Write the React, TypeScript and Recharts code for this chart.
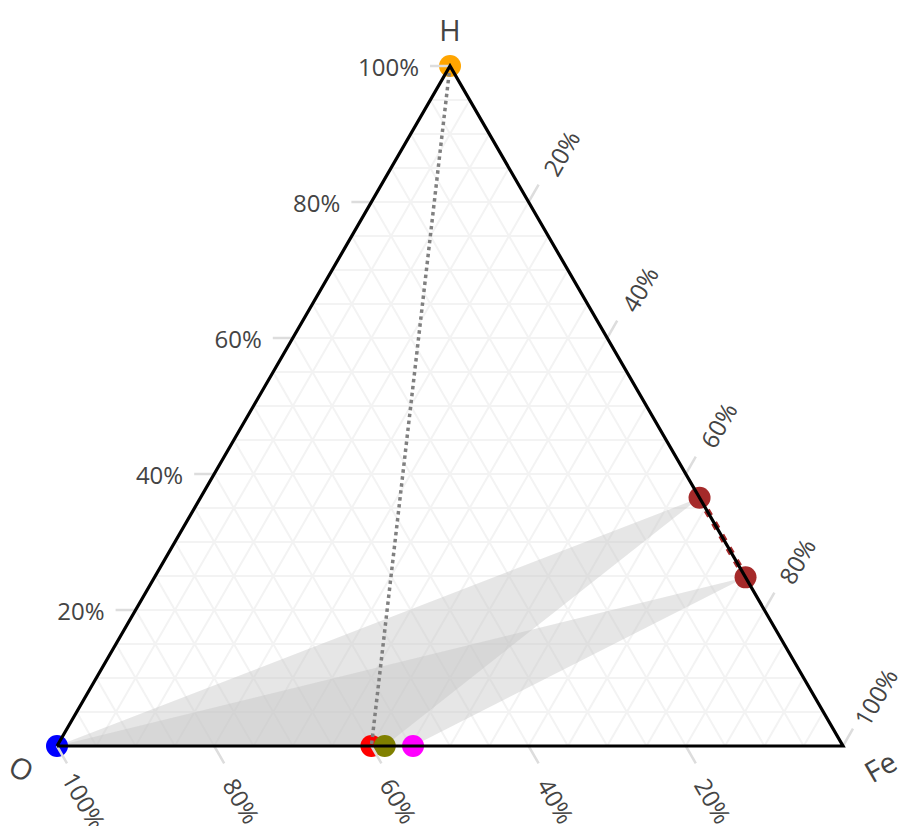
import React from 'react';
import { ScatterChart, Scatter, XAxis, YAxis } from 'recharts';

// ---------- data ----------
const axisTitles = ['H', 'O', 'Fe'];
const tickValues = [0.2, 0.4, 0.6, 0.8, 1.0];
const tickLabels = ['20%', '40%', '60%', '80%', '100%'];
const gridValues = [0.05, 0.1, 0.15, 0.2, 0.25, 0.3, 0.35, 0.4, 0.45, 0.5, 0.55, 0.6, 0.65, 0.7, 0.75, 0.8, 0.85, 0.9, 0.95];

// marker ternary compositions (H, O, Fe)
const markerH = [1, 0, 0, 0, 0, 0.365, 0.248];
const markerO = [0, 1, 0.6, 0.583, 0.547, 0, 0];
const markerFe = [0, 0, 0.4, 0.417, 0.453, 0.635, 0.752];
const markerColors = ['#FFA500', '#0000FF', '#FF0000', '#808000', '#FF00FF', '#A52A2A', '#A52A2A'];

// shaded regions (indices into markers)
const regionA = [1, 5, 3];
const regionB = [1, 6, 4];
// dotted lines
const grayLine = [0, 2];
const brownLine = [5, 6];

// ---------- layout ----------
const W = 899;
const HT = 826;
const LEFT = 57;
const BASE = 746;
const SIDE = 786;
const TRI_H = 680;

const tern = (h: number, o: number, f: number) => ({ x: f + h / 2, y: h });
const markerPt = (i: number) => ({ ...tern(markerH[i], markerO[i], markerFe[i]), color: markerColors[i] });

const xDomain = [-LEFT / SIDE, (W - LEFT) / SIDE];
const yDomain = [-(HT - BASE) / TRI_H, BASE / TRI_H];

const markers = markerH.map((_, i) => markerPt(i));

// grid lines
const gridLines: { x: number; y: number }[][] = [];
gridValues.forEach((v) => {
  gridLines.push([tern(v, 1 - v, 0), tern(v, 0, 1 - v)]);
  gridLines.push([tern(0, 1 - v, v), tern(1 - v, 0, v)]);
  gridLines.push([tern(0, v, 1 - v), tern(1 - v, v, 0)]);
});

const TICK = 20 / SIDE;
const tickLines: { x: number; y: number }[][] = [];
tickValues.forEach((v) => {
  tickLines.push([tern(v, 1 - v, 0), tern(v, 1 - v + TICK, -TICK)]);
  tickLines.push([tern(1 - v, 0, v), tern(1 - v + TICK, -TICK, v)]);
  tickLines.push([tern(0, v, 1 - v), tern(-TICK, v, 1 - v + TICK)]);
});

const LT = 31 / SIDE;
const RT = 59 / SIDE;
const BT = 61 / SIDE;
const labelRows: any[] = [];
tickValues.forEach((v, i) => {
  labelRows.push({ ...tern(v, 1 - v + LT, -LT), text: tickLabels[i], side: 'left' });
  labelRows.push({ ...tern(1 - v + RT, -RT, v), text: tickLabels[i], side: 'right' });
  labelRows.push({ ...tern(-BT, v, 1 - v + BT), text: tickLabels[i], side: 'bottom' });
});
const TS = 37 / TRI_H;
const OS = 22 / TRI_H;
labelRows.push({ ...tern(1 + TS, -TS / 2, -TS / 2), text: axisTitles[0], side: 'titleH' });
labelRows.push({ ...tern(-OS, 1 + 2 * OS, -OS), text: axisTitles[1], side: 'titleO' });
labelRows.push({ ...tern(-OS, -OS, 1 + 2 * OS), text: axisTitles[2], side: 'titleFe' });

const edges = [tern(0, 1, 0), tern(0, 0, 1), tern(1, 0, 0), tern(0, 1, 0)];

// ---------- shapes ----------
const NoShape = () => <g />;

const MarkerShape = (props: any) => {
  const { cx, cy, payload } = props;
  return <circle cx={cx} cy={cy} r={11} fill={payload.color} />;
};

const FONT = '"Open Sans", verdana, arial, sans-serif';

const LabelShape = (props: any) => {
  const { cx, cy, payload } = props;
  let dx = 0;
  let dy = 0;
  let rot = 0;
  let anchor: any = 'middle';
  let size = 24;
  switch (payload.side) {
    case 'left':
      anchor = 'end';
      break;
    case 'right':
      rot = -60;
      dx = 3;
      dy = 2;
      break;
    case 'bottom':
      rot = 60;
      dx = -3;
      dy = 2;
      break;
    case 'titleH':
      size = 29;
      break;
    case 'titleO':
      size = 29;
      rot = 30;
      dx = 3;
      break;
    case 'titleFe':
      size = 29;
      rot = -30;
      dx = -1;
      dy = -2;
      break;
  }
  const x = cx + dx;
  const y = cy + dy;
  return (
    <text
      x={x}
      y={y}
      textAnchor={anchor}
      dominantBaseline="central"
      transform={rot ? `rotate(${rot} ${x} ${y})` : undefined}
      fill="#444"
      fontSize={size}
      fontFamily={FONT}
    >
      {payload.text}
    </text>
  );
};

const regionLine = (props: any) => {
  const pts = props.points || [];
  const d = pts.map((p: any, i: number) => `${i ? 'L' : 'M'}${p.x},${p.y}`).join('') + 'Z';
  return <path d={d} fill="#c4c4c4" fillOpacity={0.42} stroke="none" />;
};

export default function App() {
  return (
    <div style={{ position: 'absolute', left: 0, top: 0, width: W, height: HT, background: '#fff' }}>
      <ScatterChart width={W} height={HT} margin={{ top: 0, right: 0, bottom: 0, left: 0 }}>
        <XAxis dataKey="x" type="number" domain={xDomain} allowDataOverflow hide />
        <YAxis dataKey="y" type="number" domain={yDomain} allowDataOverflow hide />
        {gridLines.map((seg, i) => (
          <Scatter
            key={'g' + i}
            data={seg}
            line={{ stroke: '#f3f3f3', strokeWidth: 2 }}
            shape={NoShape}
            legendType="none"
            isAnimationActive={false}
          />
        ))}
        <Scatter data={regionA.map(markerPt)} line={regionLine} shape={NoShape} legendType="none" isAnimationActive={false} />
        <Scatter data={regionB.map(markerPt)} line={regionLine} shape={NoShape} legendType="none" isAnimationActive={false} />
        <Scatter data={markers} shape={MarkerShape} legendType="none" isAnimationActive={false} />
        <Scatter
          data={grayLine.map(markerPt)}
          line={{ stroke: '#808080', strokeWidth: 3.5, strokeDasharray: '3.5 3.5' }}
          shape={NoShape}
          legendType="none"
          isAnimationActive={false}
        />
        <Scatter
          data={brownLine.map(markerPt)}
          line={{ stroke: '#A52A2A', strokeWidth: 6.5, strokeDasharray: '6.5 8' }}
          shape={NoShape}
          legendType="none"
          isAnimationActive={false}
        />
        {tickLines.map((seg, i) => (
          <Scatter
            key={'t' + i}
            data={seg}
            line={{ stroke: '#dddddd', strokeWidth: 2.5 }}
            shape={NoShape}
            legendType="none"
            isAnimationActive={false}
          />
        ))}
        <Scatter data={edges} line={{ stroke: '#000', strokeWidth: 3.2 }} shape={NoShape} legendType="none" isAnimationActive={false} />
        <Scatter data={labelRows} shape={LabelShape} legendType="none" isAnimationActive={false} />
      </ScatterChart>
    </div>
  );
}
